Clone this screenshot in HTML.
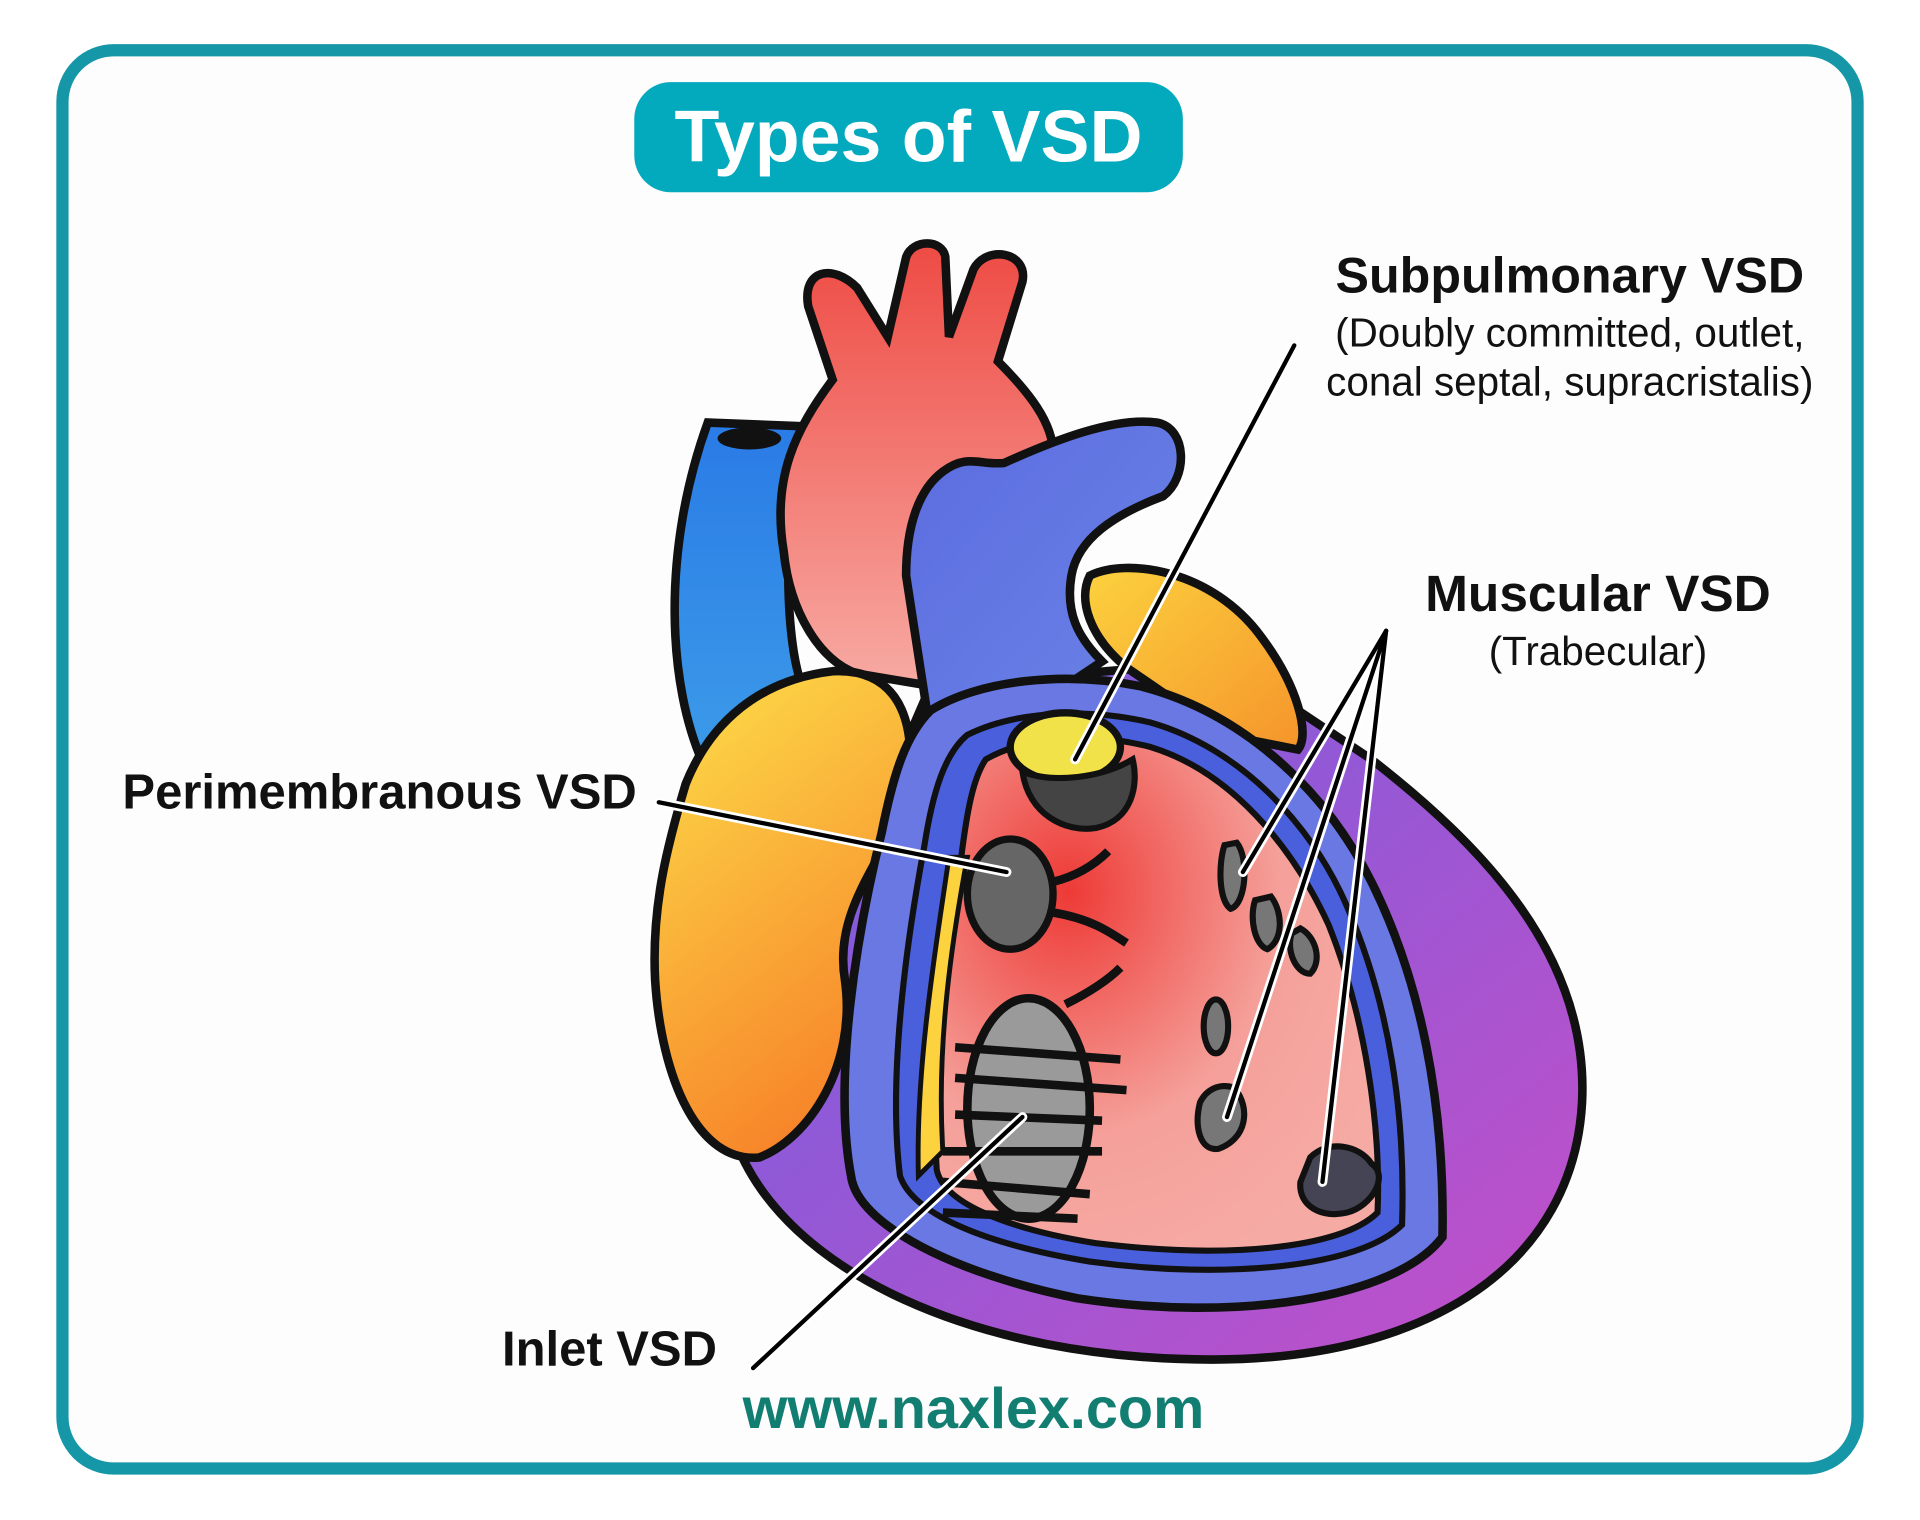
<!DOCTYPE html>
<html><head><meta charset="utf-8"><style>
html,body{margin:0;padding:0;background:#fff;}
svg{display:block;}
text{font-family:"Liberation Sans",sans-serif;}
</style></head><body>
<svg width="1920" height="1520" viewBox="0 0 1568 1241" preserveAspectRatio="none" xmlns="http://www.w3.org/2000/svg">
<defs>
<linearGradient id="purp" x1="0" y1="0" x2="1" y2="1"><stop offset="0" stop-color="#6f5fe0"/><stop offset="1" stop-color="#c44fc8"/></linearGradient>
<linearGradient id="yel" x1="0" y1="0" x2="0.4" y2="1"><stop offset="0" stop-color="#fde04a"/><stop offset="1" stop-color="#f7862a"/></linearGradient>
<linearGradient id="yel2" x1="0" y1="0" x2="1" y2="1"><stop offset="0" stop-color="#fcd23e"/><stop offset="1" stop-color="#f5942b"/></linearGradient>
<linearGradient id="blu" x1="0" y1="0" x2="0" y2="1"><stop offset="0" stop-color="#2a7be6"/><stop offset="1" stop-color="#3c9be8"/></linearGradient>
<linearGradient id="red" x1="0" y1="0" x2="0" y2="1"><stop offset="0" stop-color="#ee4b44"/><stop offset="1" stop-color="#f7aaa3"/></linearGradient>
<linearGradient id="pb" x1="0" y1="0" x2="1" y2="1"><stop offset="0" stop-color="#5c6ce0"/><stop offset="1" stop-color="#6b84e6"/></linearGradient>
<radialGradient id="pink" cx="0.3" cy="0.3" r="0.8"><stop offset="0" stop-color="#ee3a36"/><stop offset="0.6" stop-color="#f5a09a"/><stop offset="1" stop-color="#f6aaa4"/></radialGradient>
</defs>
<rect x="0" y="0" width="1568" height="1241" fill="#fff"/>
<rect x="51" y="41" width="1466" height="1158" rx="42" fill="#fdfdfd" stroke="#1597a8" stroke-width="10"/>
<rect x="518" y="67" width="448" height="90" rx="30" fill="#03a9bd"/>
<text x="742" y="132" text-anchor="middle" font-size="60" font-weight="bold" fill="#fff">Types of VSD</text>

<path d="M600,930 C640,1040 800,1110 990,1110 C1170,1110 1285,1030 1292,900 C1298,780 1210,690 1120,620 L1000,540 L760,560 Z" fill="url(#purp)" stroke="#111" stroke-width="7"/>
<path d="M890,470 C920,455 990,465 1030,520 C1060,560 1070,600 1060,612 L1000,600 L920,545 C890,520 880,490 890,470 Z" fill="url(#yel2)" stroke="#111" stroke-width="7"/>
<path d="M578,345 L655,348 C640,420 640,520 655,560 L575,625 C545,560 540,450 578,345 Z" fill="url(#blu)" stroke="#111" stroke-width="7"/>
<ellipse cx="612" cy="358" rx="26" ry="9" fill="#111"/>
<path d="M660,250 C655,220 680,215 700,235 L725,275 L740,210 C745,195 770,195 772,210 L775,275 L795,220 C805,200 840,205 835,230 L815,295 C840,320 860,345 860,370 L800,420 L760,560 L700,550 C670,540 645,500 640,450 C630,390 650,350 680,310 Z" fill="url(#red)" stroke="#111" stroke-width="7"/>
<path d="M770,385 C790,370 800,380 820,378 C860,360 910,340 945,345 C970,350 970,390 950,405 C910,420 880,440 875,470 C870,500 880,520 900,540 L870,560 L760,600 L740,470 C740,430 750,400 770,385 Z" fill="url(#pb)" stroke="#111" stroke-width="7"/>
<path d="M560,640 C580,590 620,555 680,548 C740,545 750,600 740,650 C725,700 680,740 690,800 C700,870 660,930 620,945 C570,950 540,880 535,800 C532,740 545,690 560,640 Z" fill="url(#yel)" stroke="#111" stroke-width="7"/>
<path d="M760,580 C800,555 870,548 930,560 C1010,580 1080,640 1120,720 C1160,800 1180,900 1178,1010 C1140,1060 1010,1080 880,1060 C780,1040 700,1000 695,960 C680,880 700,760 720,680 C730,630 740,600 760,580 Z" fill="#6a78e4" stroke="#111" stroke-width="7"/>
<path d="M790,600 C830,580 890,578 940,590 C1010,610 1070,670 1100,740 C1135,820 1148,910 1145,1000 C1110,1035 1000,1045 890,1030 C800,1015 745,990 735,960 C725,880 740,770 755,690 C762,645 772,615 790,600 Z" fill="#4a5fdc" stroke="#111" stroke-width="5"/>
<path d="M805,620 C840,600 895,598 940,610 C1005,630 1055,690 1085,755 C1115,830 1128,920 1125,990 C1095,1020 1000,1028 895,1015 C815,1002 770,980 765,955 C760,880 770,780 785,700 C790,660 795,635 805,620 Z" fill="url(#pink)" stroke="#111" stroke-width="5"/>
<path d="M775,700 C760,800 748,880 750,960 L770,940 C765,860 775,780 790,700 Z" fill="#fcd23e" stroke="#111" stroke-width="4"/>
<ellipse cx="870" cy="610" rx="45" ry="28" fill="#f2e24a" stroke="#111" stroke-width="6"/>
<path d="M835,630 C840,665 870,680 895,676 C925,670 930,640 925,620 C900,635 860,640 835,630 Z" fill="#444" stroke="#111" stroke-width="5"/>
<ellipse cx="825" cy="730" rx="35" ry="45" fill="#666" stroke="#111" stroke-width="6"/>
<path d="M860,720 C880,715 895,705 905,695 M860,745 C890,750 905,760 920,770" stroke="#111" stroke-width="7" fill="none"/>
<ellipse cx="840" cy="905" rx="50" ry="90" fill="#9a9a9a" stroke="#111" stroke-width="7"/>
<path d="M780,855 L915,865 M780,880 L920,890 M780,910 L900,915 M770,940 L900,940 M770,965 L890,975 M770,990 L880,995" stroke="#111" stroke-width="7"/>
<path d="M870,820 C890,810 905,800 915,790" stroke="#111" stroke-width="7" fill="none"/>
<path d="M1000,690 C995,705 995,735 1005,742 C1018,738 1020,700 1010,688 Z" fill="#777" stroke="#111" stroke-width="5"/>
<path d="M1025,735 C1020,750 1025,772 1035,775 C1048,768 1048,745 1038,732 Z" fill="#777" stroke="#111" stroke-width="5"/>
<path d="M1055,762 C1050,775 1058,795 1070,795 C1080,785 1075,765 1062,758 Z" fill="#777" stroke="#111" stroke-width="5"/>
<ellipse cx="993" cy="838" rx="10" ry="22" fill="#777" stroke="#111" stroke-width="5"/>
<path d="M980,900 C975,920 980,940 995,938 C1018,930 1022,905 1008,888 C995,884 985,890 980,900 Z" fill="#777" stroke="#111" stroke-width="5"/>
<path d="M1062,965 C1060,985 1080,995 1100,990 C1120,985 1135,960 1120,950 C1110,935 1085,930 1070,945 Z" fill="#445" stroke="#111" stroke-width="5"/>

<g stroke-linecap="round">
<g stroke="#fff" stroke-width="8">
<line x1="1057" y1="282" x2="878" y2="620"/><line x1="538" y1="655" x2="822" y2="712"/><line x1="615" y1="1117" x2="835" y2="912"/>
<line x1="1132" y1="515" x2="1015" y2="712"/><line x1="1132" y1="515" x2="1002" y2="912"/><line x1="1132" y1="515" x2="1080" y2="965"/>
</g>
<g stroke="#000" stroke-width="3.5">
<line x1="1057" y1="282" x2="878" y2="620"/><line x1="538" y1="655" x2="822" y2="712"/><line x1="615" y1="1117" x2="835" y2="912"/>
<line x1="1132" y1="515" x2="1015" y2="712"/><line x1="1132" y1="515" x2="1002" y2="912"/><line x1="1132" y1="515" x2="1080" y2="965"/>
</g></g>

<text x="1282" y="239" text-anchor="middle" font-size="41" font-weight="bold" fill="#111">Subpulmonary VSD</text>
<text x="1282" y="283" text-anchor="middle" font-size="33" fill="#111">(Doubly committed, outlet,</text>
<text x="1282" y="323" text-anchor="middle" font-size="33" fill="#111">conal septal, supracristalis)</text>
<text x="1305" y="499" text-anchor="middle" font-size="42" font-weight="bold" fill="#111">Muscular VSD</text>
<text x="1305" y="543" text-anchor="middle" font-size="33" fill="#111">(Trabecular)</text>
<text x="100" y="660" font-size="40" font-weight="bold" fill="#111" textLength="420">Perimembranous VSD</text>
<text x="410" y="1115" font-size="40" font-weight="bold" fill="#111">Inlet VSD</text>
<text x="795" y="1166" text-anchor="middle" font-size="47" font-weight="bold" fill="#127e72">www.naxlex.com</text>
</svg>
</body></html>
